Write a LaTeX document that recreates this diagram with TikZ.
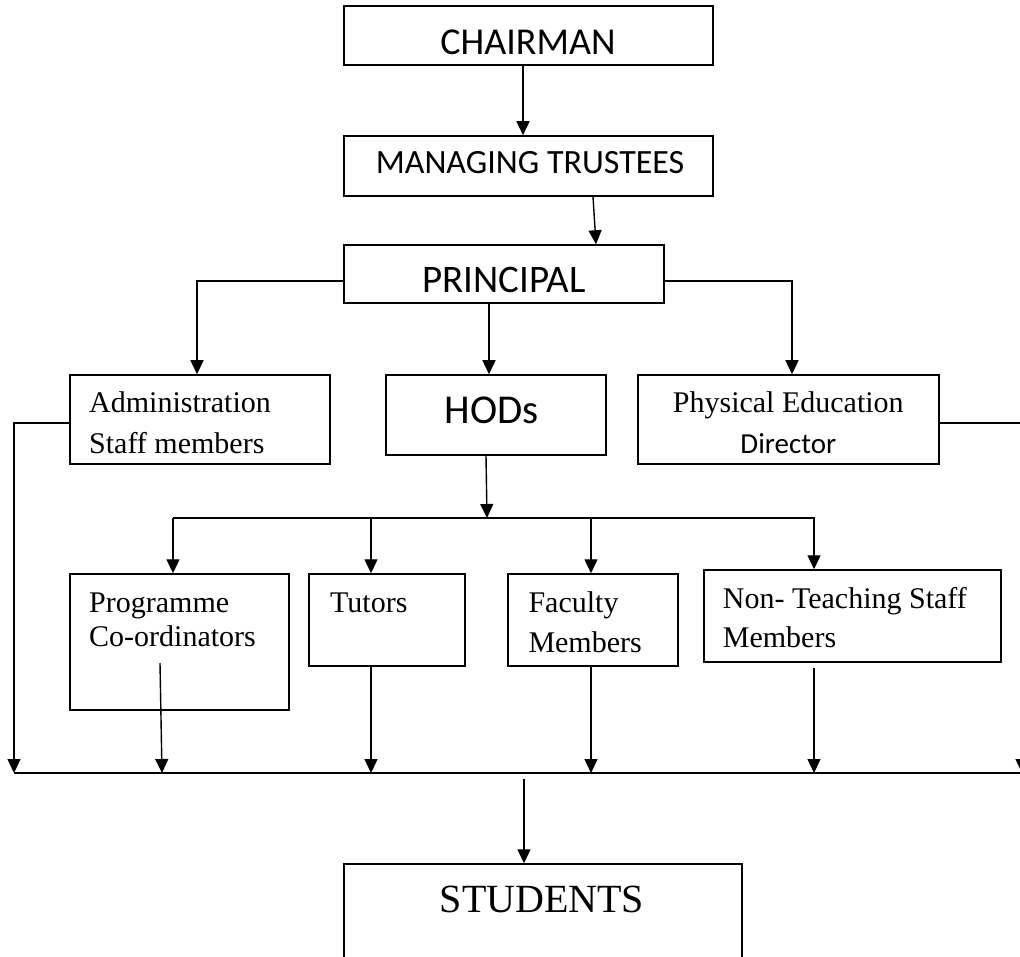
\documentclass[tikz,border=0pt]{standalone}
\usepackage{fontspec}
\setmainfont{Liberation Serif}
\newfontfamily\calib{Carlito}
\usetikzlibrary{arrows.meta}
\tikzset{
  box/.style={draw, line width=1.5pt, rectangle, inner sep=0pt},
  conn/.style={line width=1.4pt},
  arr/.style={line width=1.4pt, -{Triangle[length=14pt,width=13pt]}},
  lbl/.style={inner sep=0pt, anchor=base west, font=\fontsize{30}{36}\selectfont},
  clbl/.style={inner sep=0pt, anchor=base},
}
\begin{document}
\begin{tikzpicture}[x=1pt, y=-1pt]
\useasboundingbox (0,0) rectangle (1020,957);
\clip (0,0) rectangle (1020,957);
\fill[white] (0,0) rectangle (1020,957);

% boxes
\node[box, minimum width=369pt, minimum height=59pt] (chair) at (528.5,35.5) {};
\node[box, minimum width=369pt, minimum height=60pt] (mt) at (528.5,166) {};
\node[box, minimum width=320pt, minimum height=58pt] (pr) at (504,274) {};
\node[box, minimum width=260pt, minimum height=89pt] (adm) at (200,419.5) {};
\node[box, minimum width=220pt, minimum height=80pt] (hod) at (496,415) {};
\node[box, minimum width=301pt, minimum height=89pt] (pe) at (788.5,419.5) {};
\node[box, minimum width=219pt, minimum height=136pt] (pc) at (179.5,642) {};
\node[box, minimum width=156pt, minimum height=92pt] (tu) at (387,620) {};
\node[box, minimum width=170pt, minimum height=92pt] (fa) at (593,620) {};
\node[box, minimum width=297pt, minimum height=92pt] (nt) at (852.5,616) {};
\node[box, minimum width=398pt, minimum height=136pt] (st) at (543,932) {};

% texts
\node[clbl, font=\calib\fontsize{38}{44}\selectfont] (tchair) at (528,55) {CHAIRMAN};
\node[clbl, font=\calib\fontsize{34}{40}\selectfont] (tmt) at (530,174) {MANAGING TRUSTEES};
\node[clbl, font=\calib\fontsize{39}{45}\selectfont] (tpr) at (504,293) {PRINCIPAL};
\node[clbl, font=\calib\fontsize{41}{47}\selectfont] (thod) at (491.5,423) {HODs};
\node[lbl] (tadm1) at (89,413) {Administration};
\node[lbl] (tadm2) at (89,453) {Staff members};
\node[clbl, font=\fontsize{30}{36}\selectfont] (tpe1) at (788.3,413) {Physical Education};
\node[clbl, font=\calib\fontsize{29}{35}\selectfont] (tpe2) at (788.3,453) {Director};
\node[lbl] (tpc1) at (89,612) {Programme};
\node[lbl] (tpc2) at (89,646) {Co-ordinators};
\node[lbl] (ttu) at (330,612) {Tutors};
\node[lbl] (tfa1) at (528.3,612) {Faculty};
\node[lbl] (tfa2) at (528.3,652) {Members};
\node[lbl] (tnt1) at (722.7,608) {Non- Teaching Staff};
\node[lbl] (tnt2) at (722.7,647) {Members};
\node[clbl, font=\fontsize{40}{46}\selectfont] (tst) at (542,912) {STUDENTS};

% coordinates
\coordinate (busL) at (14,773);
\coordinate (busE) at (1020,773);
\coordinate (busR) at (1022,773);
\coordinate (dist) at (487,518);
\coordinate (dL) at (173,518);
\coordinate (dR) at (815,518);
\coordinate (sIn) at (524,779);

% top chain
\draw[arr] ([xshift=-5.5pt]chair.south) -- ([xshift=-5.5pt]chair.south |- mt.north);
\draw[arr] ([xshift=64.5pt]mt.south) -- ([xshift=92pt]pr.north);

% principal to second level
\draw[arr] ([yshift=-7pt]pr.west) -| ([xshift=-3pt]adm.north);
\draw[arr] ([xshift=-15pt]pr.south) -- ([xshift=-15pt]pr.south |- hod.north);
\draw[arr] ([yshift=-7pt]pr.east) -| ([xshift=3.5pt]pe.north);

% side lines to bus
\draw[arr] ([yshift=-3.5pt]adm.west) -| (busL);
\draw[arr] ([yshift=-3.5pt]pe.east) -| (busR);

% HODs distribution
\draw[arr] ([xshift=-10pt]hod.south) -- (dist);
\draw[conn] (dL) -- (dR);
\draw[arr] (dL) -- (dL |- pc.north);
\draw[arr] ([xshift=-16pt]tu.north |- dL) -- ([xshift=-16pt]tu.north);
\draw[arr] ([xshift=-2pt]fa.north |- dL) -- ([xshift=-2pt]fa.north);
\draw[arr] ([xshift=-38.5pt]nt.north |- dL) -- ([xshift=-38.5pt]nt.north);

% bus
\draw[conn] (busL) -- (busE);
\draw[arr] ([xshift=-19.5pt,yshift=-21pt]pc.center) -- ([xshift=-17.5pt]pc.center |- busL);
\draw[arr] ([xshift=-16pt]tu.south) -- ([xshift=-16pt]tu.south |- busL);
\draw[arr] ([xshift=-2pt]fa.south) -- ([xshift=-2pt]fa.south |- busL);
\draw[arr] ([xshift=-38.5pt,yshift=-5pt]nt.south) -- ([xshift=-38.5pt]nt.south |- busL);

% to students
\draw[arr] (sIn) -- (sIn |- st.north);
\end{tikzpicture}
\end{document}
